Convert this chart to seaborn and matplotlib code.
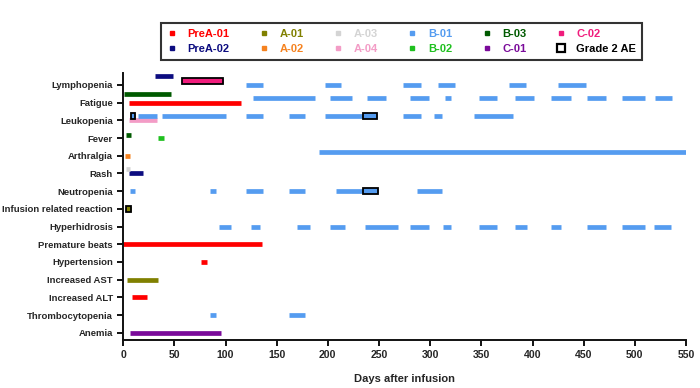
import pandas as pd
import matplotlib.pyplot as plt
from matplotlib.lines import Line2D
import seaborn as sns

# adverse event rows, top to bottom
events = ['Lymphopenia', 'Fatigue', 'Leukopenia', 'Fever', 'Arthralgia', 'Rash',
          'Neutropenia', 'Infusion related reaction', 'Hyperhidrosis', 'Premature beats',
          'Hypertension', 'Increased AST', 'Increased ALT', 'Thrombocytopenia', 'Anemia']

patients = ['PreA-01', 'PreA-02', 'A-01', 'A-02', 'A-03', 'A-04',
            'B-01', 'B-02', 'B-03', 'C-01', 'C-02']
patient_colors = ['#ff0000', '#0c0c80', '#808000', '#f5821f', '#d4d4d4', '#f39cc6',
                  '#559cf0', '#1fc01f', '#005a00', '#7a0a9a', '#f01c7c']

# episodes per patient: (event, start day, end day)
pre_a01 = [('Fatigue', 6, 115), ('Premature beats', 0, 136), ('Hypertension', 76, 82),
           ('Increased ALT', 9, 23)]
pre_a02 = [('Lymphopenia', 31, 49), ('Rash', 5.5, 19.5)]
a01 = [('Infusion related reaction', 3, 7.5), ('Increased AST', 4, 34)]
a02 = [('Arthralgia', 2, 7)]
a03 = [('Rash', 2.5, 6.5)]
a04 = [('Leukopenia', 6, 33)]
b01 = [('Lymphopenia', 120, 137), ('Lymphopenia', 197, 213), ('Lymphopenia', 273, 291),
       ('Lymphopenia', 308, 324), ('Lymphopenia', 377, 394), ('Lymphopenia', 425, 452),
       ('Fatigue', 127, 187), ('Fatigue', 202, 224), ('Fatigue', 238, 257),
       ('Fatigue', 280, 299), ('Fatigue', 314, 320), ('Fatigue', 348, 365),
       ('Fatigue', 383, 401), ('Fatigue', 418, 438), ('Fatigue', 453, 472),
       ('Fatigue', 487, 510), ('Fatigue', 520, 536),
       ('Leukopenia', 8, 12), ('Leukopenia', 14, 33), ('Leukopenia', 38, 100),
       ('Leukopenia', 120, 137), ('Leukopenia', 162, 178), ('Leukopenia', 197, 234),
       ('Leukopenia', 234, 248), ('Leukopenia', 273, 291), ('Leukopenia', 304, 312),
       ('Leukopenia', 343, 381),
       ('Arthralgia', 191, 550),
       ('Neutropenia', 6.5, 12), ('Neutropenia', 85, 91), ('Neutropenia', 120, 137),
       ('Neutropenia', 162, 178), ('Neutropenia', 208, 234), ('Neutropenia', 234, 249),
       ('Neutropenia', 287, 312),
       ('Hyperhidrosis', 94, 105), ('Hyperhidrosis', 125, 134), ('Hyperhidrosis', 170, 183),
       ('Hyperhidrosis', 202, 217), ('Hyperhidrosis', 236, 269), ('Hyperhidrosis', 280, 299),
       ('Hyperhidrosis', 313, 320), ('Hyperhidrosis', 348, 365), ('Hyperhidrosis', 383, 395),
       ('Hyperhidrosis', 418, 428), ('Hyperhidrosis', 453, 472), ('Hyperhidrosis', 487, 510),
       ('Hyperhidrosis', 519, 535),
       ('Thrombocytopenia', 85, 91), ('Thrombocytopenia', 162, 178)]
b02 = [('Fever', 34, 40)]
b03 = [('Fatigue', 1, 47), ('Fever', 2.5, 8)]
c01 = [('Anemia', 6.5, 96)]
c02 = [('Lymphopenia', 57, 98)]
episodes = [pre_a01, pre_a02, a01, a02, a03, a04, b01, b02, b03, c01, c02]

# grade 2 adverse events: (patient, event, start, end)
grade2 = [('C-02', 'Lymphopenia', 57, 98), ('B-01', 'Leukopenia', 8, 12),
          ('B-01', 'Leukopenia', 234, 248), ('B-01', 'Neutropenia', 234, 249),
          ('A-01', 'Infusion related reaction', 3, 7.5)]

# sub-lane inside a row when several patients share it (0 = on the tick)
lanes = {('Lymphopenia', 'PreA-02'): 2, ('Lymphopenia', 'C-02'): 1,
         ('Fatigue', 'B-03'): 2, ('Fatigue', 'B-01'): 1,
         ('Leukopenia', 'B-01'): 1, ('Fever', 'B-03'): 0.8,
         ('Arthralgia', 'B-01'): 1, ('Rash', 'A-03'): 1}
LANE = 0.24
BAR_H = 0.26

def ypos(ev, pat):
    return events.index(ev) - LANE * lanes.get((ev, pat), 0)

recs = []
seg = 0
for pat, eps in zip(patients, episodes):
    for ev, s, e in eps:
        for x in (s, e):
            recs.append({'seg': seg, 'patient': pat, 'day': x, 'y': ypos(ev, pat)})
        seg += 1
df = pd.DataFrame(recs)

sns.set_style('ticks')
plt.rcParams['font.family'] = ['Liberation Sans', 'DejaVu Sans']
plt.rcParams['font.weight'] = 'bold'

fig = plt.figure(figsize=(7, 3.88), dpi=100)
ax = fig.add_axes([0.176, 0.124, 0.804, 0.688])

palette = dict(zip(patients, patient_colors))
sns.lineplot(data=df, x='day', y='y', hue='patient', units='seg', estimator=None,
             palette=palette, linewidth=3.4, solid_capstyle='butt', legend=False,
             sort=False, ax=ax)

for pat, ev, s, e in grade2:
    ax.barh(ypos(ev, pat), e - s, left=s, height=BAR_H + 0.08, color=palette[pat],
            edgecolor='black', linewidth=1.3, zorder=5)

ax.set_xlim(0, 550)
ax.set_xticks(range(0, 551, 50))
ax.set_ylim(14.4, -0.68)
ax.set_yticks(range(len(events)))
ax.set_yticklabels(events)
ax.set_xlabel('Days after infusion', fontsize=8, fontweight='bold', labelpad=10)
ax.set_ylabel('')
ax.tick_params(axis='both', width=1.4, length=4, color='#111111')
ax.tick_params(axis='y', labelsize=6.8)
ax.tick_params(axis='x', labelsize=7.6)
for lbl in ax.get_xticklabels() + ax.get_yticklabels():
    lbl.set_fontweight('bold')
sns.despine(ax=ax)
for sp in ('left', 'bottom'):
    ax.spines[sp].set_linewidth(1.4)
    ax.spines[sp].set_color('#111111')

# legend: two rows, filled column-wise
handles = [Line2D([], [], ls='', marker='s', markersize=3.2, color=c) for c in patient_colors]
handles.append(Line2D([], [], ls='', marker='s', markersize=6, mfc='white',
                      mec='black', mew=1.6))
labels = patients + ['Grade 2 AE']
leg = fig.legend(handles, labels, loc='center', bbox_to_anchor=(0.573, 0.893), ncol=6,
                 frameon=True, fancybox=False, edgecolor='black', fontsize=8,
                 handlelength=1.0, handletextpad=0.9, columnspacing=2.6,
                 borderpad=0.5, labelspacing=0.5)
leg.get_frame().set_linewidth(1.5)
for txt, c in zip(leg.get_texts(), patient_colors + ['black']):
    txt.set_color(c)
    txt.set_fontweight('bold')

fig.savefig('out.png', dpi=100)
